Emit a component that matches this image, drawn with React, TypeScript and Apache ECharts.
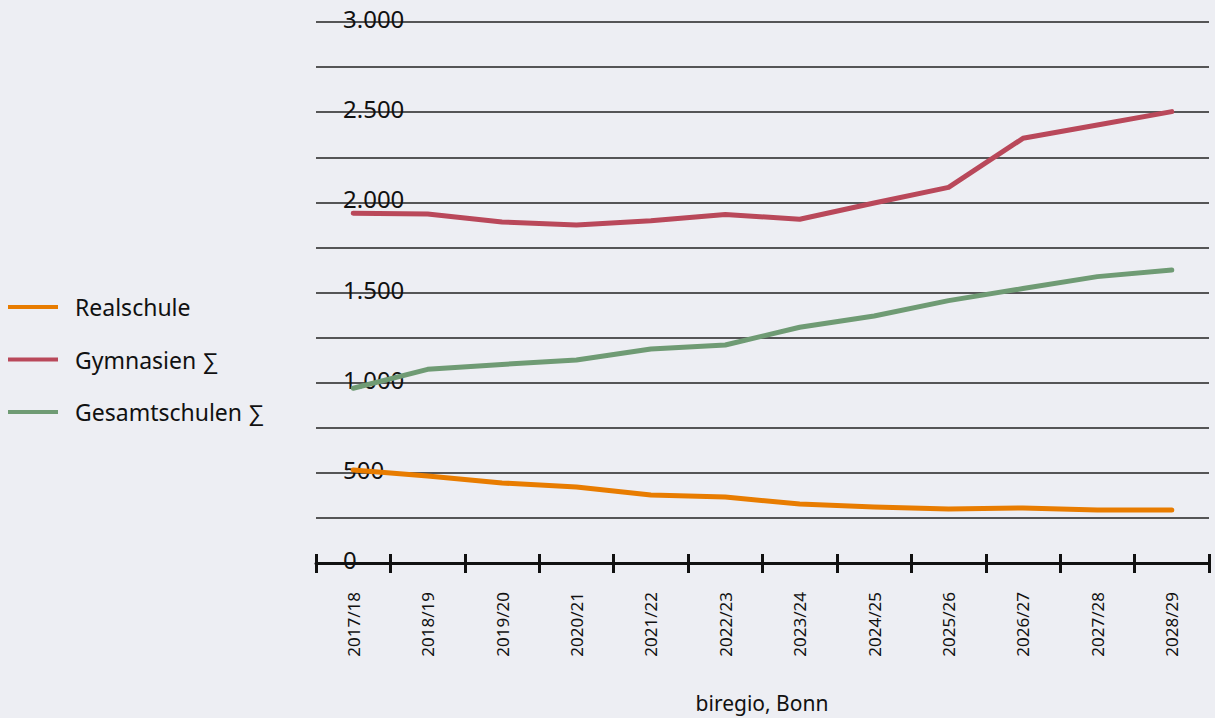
import React, { useEffect, useRef } from "react";
import * as echarts from "echarts";

const categories = ["2017/18", "2018/19", "2019/20", "2020/21", "2021/22", "2022/23", "2023/24", "2024/25", "2025/26", "2026/27", "2027/28", "2028/29"];
const realschule = [516, 482, 444, 421, 377, 366, 327, 311, 299, 305, 294, 294];
const gymnasien = [1939, 1935, 1891, 1874, 1898, 1933, 1906, 1996, 2083, 2355, 2429, 2503];
const gesamtschulen = [969, 1074, 1101, 1126, 1187, 1209, 1307, 1370, 1455, 1522, 1588, 1625];
const seriesNames = ["Realschule", "Gymnasien ∑", "Gesamtschulen ∑"];
const sourceText = "biregio, Bonn";

const FONT = "'Noto Sans', sans-serif";

export default function App() {
  const ref = useRef<HTMLDivElement>(null);
  useEffect(() => {
    document.body.style.margin = "0";
    const chart = echarts.init(ref.current!, null, { renderer: "svg" });
    const colors = ["#e87c00", "#b9485a", "#6f9b74"];
    const data = [realschule, gymnasien, gesamtschulen];
    chart.setOption({
      animation: false,
      backgroundColor: "#edeef3",
      grid: { left: 316, right: 6, top: 22, bottom: 155, containLabel: false },
      legend: {
        orient: "vertical",
        left: 8,
        top: 295,
        padding: 0,
        icon: "rect",
        itemWidth: 50,
        itemHeight: 4,
        itemGap: 28.5,
        data: seriesNames,
        textStyle: { fontFamily: FONT, fontSize: 23, color: "#111", lineHeight: 24, padding: [0, 0, 0, 12] },
      },
      xAxis: [
        {
          type: "category",
          data: categories,
          boundaryGap: true,
          axisLine: { show: true, lineStyle: { color: "#111", width: 3 } },
          axisTick: { show: true, length: 10, lineStyle: { color: "#111", width: 3 }, alignWithLabel: false },
          axisLabel: { rotate: 90, margin: 29, fontFamily: FONT, fontSize: 17, color: "#111" },
          splitLine: { show: false },
        },
        {
          type: "category",
          data: categories,
          position: "bottom",
          boundaryGap: true,
          axisLine: { show: false },
          axisTick: { show: true, inside: true, length: 9, lineStyle: { color: "#111", width: 3 } },
          axisLabel: { show: false },
          splitLine: { show: false },
        },
      ],
      yAxis: {
        type: "value",
        min: 0,
        max: 3000,
        interval: 250,
        axisLine: { show: false },
        axisTick: { show: false },
        splitLine: { show: true, lineStyle: { color: "#222", width: 1.5 } },
        axisLabel: {
          inside: true,
          margin: 27,
          fontFamily: FONT,
          fontSize: 24,
          color: "#111",
          verticalAlign: "bottom",
          lineHeight: 7,
          formatter: (v: number) => (v % 500 === 0 ? v.toLocaleString("de-DE") : ""),
        },
      },
      graphic: [
        {
          type: "text",
          x: 762,
          y: 703,
          style: { text: sourceText, fontFamily: FONT, fontSize: 21, fill: "#111", textAlign: "center", textVerticalAlign: "middle" },
        },
      ],
      series: seriesNames.map((name, i) => ({
        name,
        type: "line",
        data: data[i],
        symbol: "none",
        color: colors[i],
        lineStyle: { width: 5, color: colors[i], cap: "round", join: "round" },
        z: 3 + i,
      })),
    });
    return () => chart.dispose();
  }, []);
  return <div ref={ref} style={{ position: "absolute", left: 0, top: 0, width: 1215, height: 718 }} />;
}
